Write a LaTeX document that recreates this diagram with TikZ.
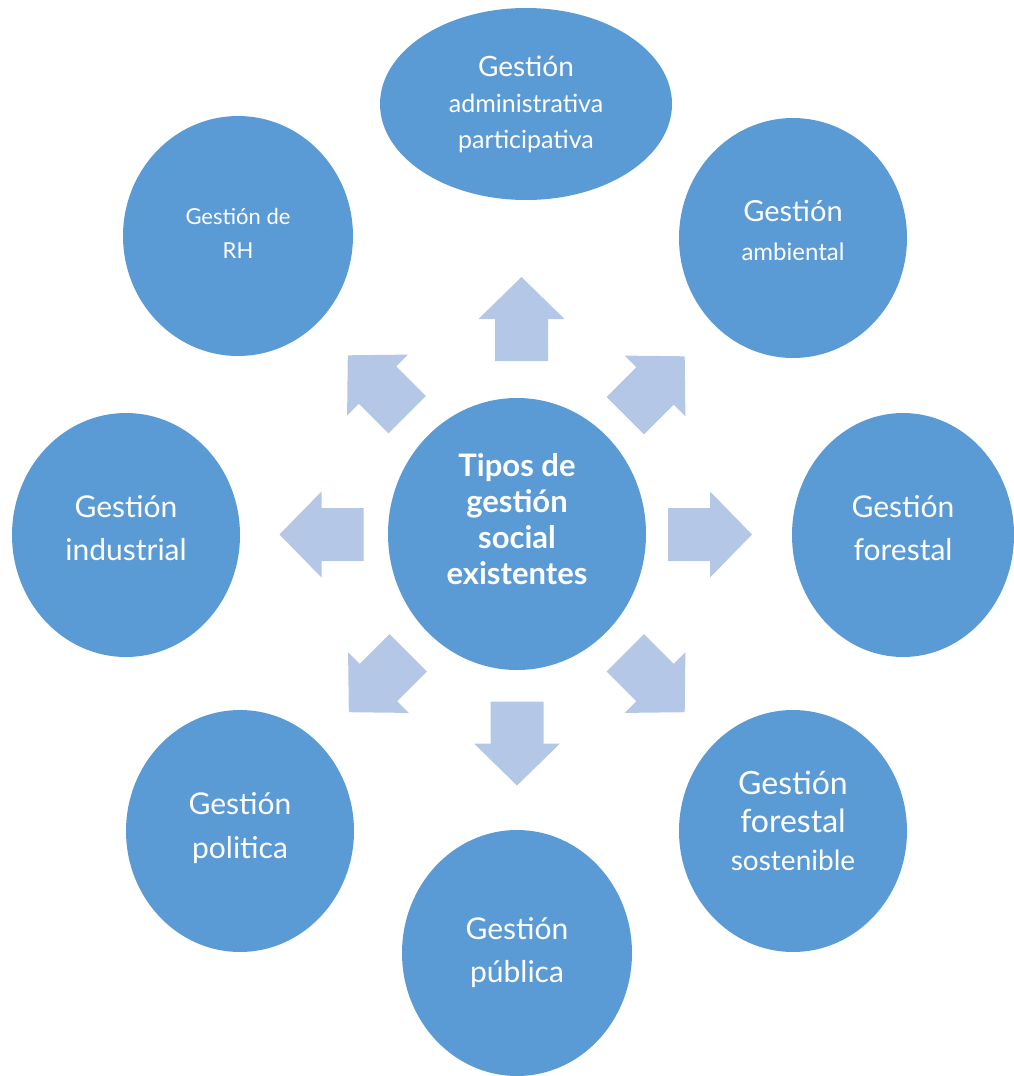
\documentclass[tikz,border=0pt]{standalone}
\usepackage{fontspec}
\setmainfont{Lato}
\usepackage{tikz}
\usetikzlibrary{shapes.geometric}
\usetikzlibrary{calc}
\definecolor{azul}{RGB}{91,155,213}
\definecolor{celeste}{RGB}{180,199,231}
\tikzstyle{tipo} = [ellipse, fill=azul, text=white, align=center, inner sep=0pt]
\tikzstyle{flecha} = [fill=celeste]
\newcommand{\tam}[2]{\fontsize{#1}{#2}\selectfont}

\begin{document}
\begin{tikzpicture}[x=1pt,y=-1pt]
			\useasboundingbox (0,0) rectangle (1013,1076);
			\node[tipo, minimum width=258pt, minimum height=272pt, text depth=30pt, font=\tam{31}{36}\bfseries] (hub) at (517,534) {Tipos de\\ gestión\\ social\\ existentes};
			\node[tipo, minimum width=292pt, minimum height=192pt, font=\tam{25}{36}] (adm) at (526,104) {\tam{28}{36}Gestión\\ administrativa\\ participativa};
			\node[tipo, minimum width=230pt, minimum height=240pt, text depth=6pt, font=\tam{22}{34}] (rh) at (238,236) {Gestión de\\ RH};
			\node[tipo, minimum width=228pt, minimum height=240pt, text depth=16pt, font=\tam{24}{39}] (amb) at (793,238) {\tam{29}{39}Gestión\\ ambiental};
			\node[tipo, minimum width=228pt, minimum height=244pt, text depth=14pt, font=\tam{30}{43}] (ind) at (126,535) {Gestión\\ industrial};
			\node[tipo, minimum width=222pt, minimum height=244pt, text depth=14pt, font=\tam{30}{43}] (for) at (903,535) {Gestión\\ forestal};
			\node[tipo, minimum width=228pt, minimum height=242pt, text depth=12pt, font=\tam{30}{44}] (pol) at (240,831) {Gestión\\ politica};
			\node[tipo, minimum width=228pt, minimum height=242pt, text depth=20pt, font=\tam{32}{38}] (sos) at (793,831) {Gestión\\ forestal\\ \tam{28}{42}sostenible};
			\node[tipo, minimum width=230pt, minimum height=246pt, font=\tam{30}{43}] (pub) at (517,953) {Gestión\\ pública};
			\foreach \destino/\angulo in {adm/90, amb/45, for/0, sos/-45, pub/-90, pol/-135, ind/180, rh/135}
				\fill[flecha, shift={($(hub)!0.5!(\destino)$)}, rotate=\angulo] (-42,-26.5) -- (0,-26.5) -- (0,-43) -- (42,0) -- (0,43) -- (0,26.5) -- (-42,26.5) -- cycle;
		\end{tikzpicture}
\end{document}
